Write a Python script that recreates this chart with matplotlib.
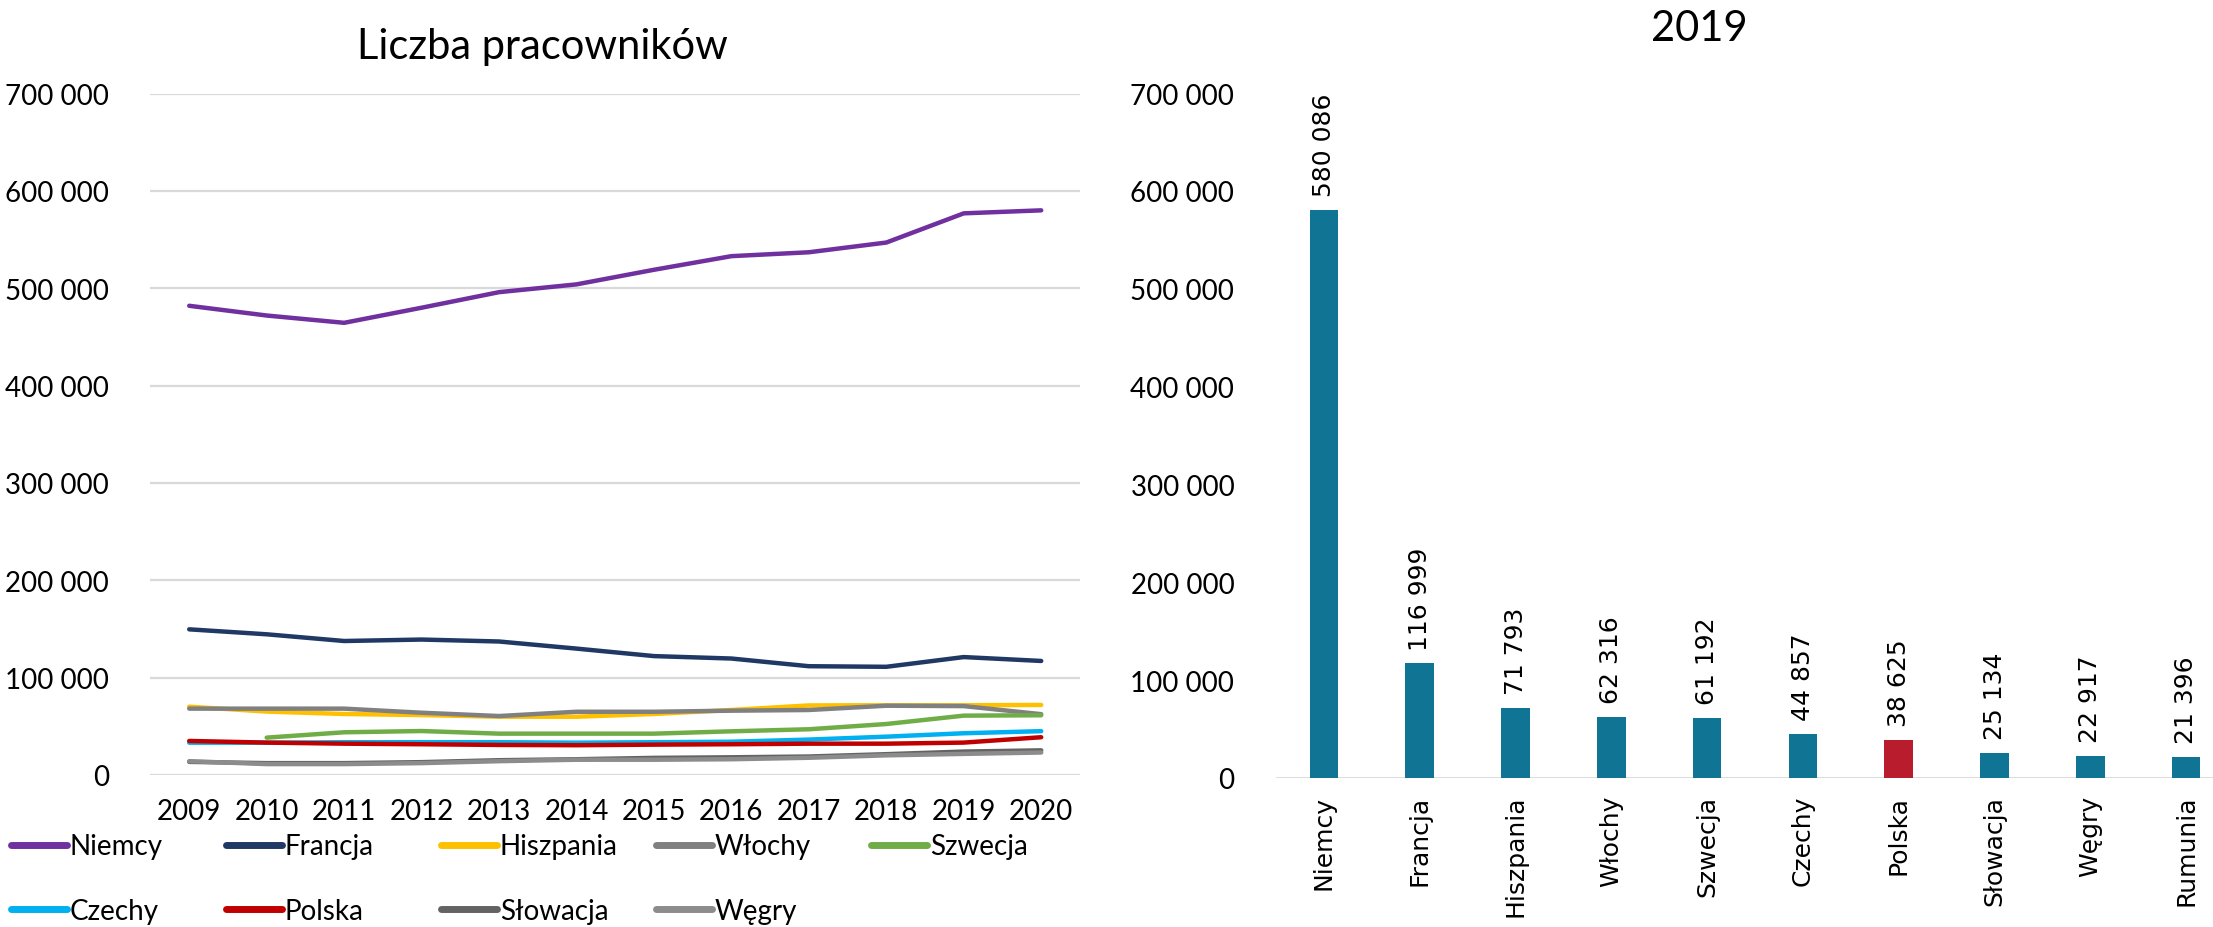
import matplotlib
matplotlib.use('Agg')
import matplotlib.pyplot as plt
from matplotlib.ticker import FuncFormatter
from matplotlib.lines import Line2D

# Left chart: employees per year
years = ['2009', '2010', '2011', '2012', '2013', '2014', '2015', '2016', '2017', '2018', '2019', '2020']
niemcy = [482000, 472000, 464500, 480000, 496000, 504000, 519000, 533000, 537000, 547000, 577000, 580086]
francja = [149500, 144400, 137500, 139000, 137000, 129700, 122000, 119500, 111600, 111000, 121000, 116999]
hiszpania = [70000, 65000, 62500, 61400, 59700, 59700, 62500, 66600, 71300, 71500, 71500, 71793]
wlochy = [68000, 68000, 68000, 63800, 60400, 64800, 64800, 65900, 66600, 71000, 70600, 62316]
szwecja = [None, 38200, 43700, 45000, 42300, 42300, 42300, 44700, 46800, 52200, 60800, 61192]
czechy = [33000, 33000, 33500, 33500, 33500, 33000, 33500, 34000, 36200, 39200, 42700, 44857]
polska = [34800, 33100, 32000, 31400, 30700, 30400, 31000, 31400, 32000, 32000, 33100, 38625]
slowacja = [13300, 12000, 12000, 13000, 15000, 16000, 17400, 18000, 18800, 21200, 23900, 25134]
wegry = [14000, 11000, 11000, 12000, 14000, 15500, 15500, 16000, 17500, 20000, 21500, 22917]

series_names = ['Niemcy', 'Francja', 'Hiszpania', 'Włochy', 'Szwecja',
                'Czechy', 'Polska', 'Słowacja', 'Węgry']
series_values = [niemcy, francja, hiszpania, wlochy, szwecja,
                 czechy, polska, slowacja, wegry]
series_colors = ['#7030A0', '#203864', '#FFC000', '#808080', '#70AD47',
                 '#00B0F0', '#C00000', '#636363', '#8C8C8C']

# Right chart: 2019
countries_2019 = ['Niemcy', 'Francja', 'Hiszpania', 'Włochy', 'Szwecja',
                  'Czechy', 'Polska', 'Słowacja', 'Węgry', 'Rumunia']
values_2019 = [580086, 116999, 71793, 62316, 61192, 44857, 38625, 25134, 22917, 21396]


def fmt_thousands(v, pos=None):
    return f'{int(round(v)):,}'.replace(',', ' ')


plt.rcParams['font.family'] = ['Lato', 'DejaVu Sans']

fig = plt.figure(figsize=(22.13, 9.28), dpi=100)

# ---- left line chart
ax1 = fig.add_axes([0.068, 0.164, 0.420, 0.734])
x = list(range(len(years)))
handles = []
for name, vals, col in zip(series_names, series_values, series_colors):
    xs = [i for i, v in zip(x, vals) if v is not None]
    ys = [v for v in vals if v is not None]
    ax1.plot(xs, ys, color=col, lw=3.2, solid_capstyle='round', zorder=3)
    handles.append(Line2D([], [], color=col, lw=5, solid_capstyle='round'))

ax1.set_xlim(-0.5, len(years) - 0.5)
ax1.set_ylim(0, 700000)
ax1.set_yticks(range(0, 700001, 100000))
ax1.yaxis.set_major_formatter(FuncFormatter(fmt_thousands))
ax1.set_xticks(x)
ax1.set_xticklabels(years)
ax1.grid(axis='y', color='#D9D9D9', lw=1.6)
ax1.set_axisbelow(True)
for s in ax1.spines.values():
    s.set_visible(False)
ax1.tick_params(axis='both', length=0, labelsize=20)
ax1.tick_params(axis='y', pad=30)
ax1.tick_params(axis='x', pad=17)
fig.text(0.245, 0.949, 'Liczba pracowników', ha='center', va='center', fontsize=30)

# legend: one small legend per column so spacing is even
for j in range(5):
    idx = [j, j + 5] if j + 5 < len(series_names) else [j]
    fig.legend([handles[i] for i in idx], [series_names[i] for i in idx],
               loc='upper left', bbox_to_anchor=(0.005 + j * 0.0972, 0.101),
               frameon=False, fontsize=20, handlelength=2.0, handletextpad=0.1,
               labelspacing=1.4, borderaxespad=0, borderpad=0)

# ---- right bar chart
ax2 = fig.add_axes([0.5766, 0.1606, 0.4329, 0.7381])
bx = list(range(len(countries_2019)))
bar_colors = ['#B91C2C' if c == 'Polska' else '#107594' for c in countries_2019]
bars = ax2.bar(bx, values_2019, width=0.3, color=bar_colors, zorder=3)
ax2.bar_label(bars, labels=[fmt_thousands(v) for v in values_2019], rotation=90,
              padding=10, fontsize=18, family='DejaVu Sans')
ax2.set_xlim(-0.5, len(countries_2019) - 0.5)
ax2.set_ylim(0, 700000)
ax2.set_yticks(range(0, 700001, 100000))
ax2.yaxis.set_major_formatter(FuncFormatter(fmt_thousands))
ax2.set_xticks(bx)
ax2.set_xticklabels(countries_2019, rotation=90, fontsize=18, family='DejaVu Sans')
ax2.axhline(0, color='#D9D9D9', lw=2, zorder=2)
for s in ax2.spines.values():
    s.set_visible(False)
ax2.tick_params(axis='both', length=0)
ax2.tick_params(axis='y', labelsize=20, pad=30)
ax2.tick_params(axis='x', pad=12)
fig.text(0.768, 0.969, '2019', ha='center', va='center', fontsize=30)

fig.savefig('out.png', dpi=100)
